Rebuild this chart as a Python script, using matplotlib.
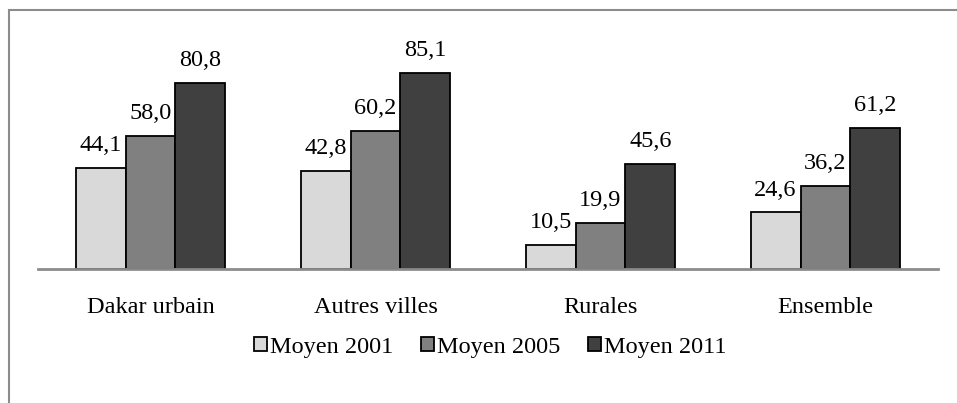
import matplotlib
matplotlib.use("Agg")
import matplotlib.pyplot as plt
import matplotlib.patches as patches
import numpy as np

plt.rcParams["font.family"] = ["Liberation Serif", "DejaVu Serif"]

# données
categories = ["Dakar urbain", "Autres villes", "Rurales", "Ensemble"]
series_names = ["Moyen 2001", "Moyen 2005", "Moyen 2011"]
moyen_2001 = [44.1, 42.8, 10.5, 24.6]
moyen_2005 = [58.0, 60.2, 19.9, 36.2]
moyen_2011 = [80.8, 85.1, 45.6, 61.2]
colors = ["#D9D9D9", "#808080", "#404040"]

fs = 17.5

fig = plt.figure(figsize=(9.57, 4.03), dpi=100)
ax = fig.add_axes([38 / 957, 1 - 269 / 403, 900 / 957, 230 / 403])

x = np.arange(len(categories))
w = 0.222
for i, vals in enumerate([moyen_2001, moyen_2005, moyen_2011]):
    bars = ax.bar(x + (i - 1) * w, vals, w, color=colors[i], edgecolor="black",
                  linewidth=1.3, label=series_names[i], zorder=2)
    for b, v in zip(bars, vals):
        ax.annotate(f"{v:.1f}".replace(".", ","), (b.get_x() + b.get_width() / 2, v),
                    xytext=(0, 8.5), textcoords="offset points", ha="center",
                    va="bottom", fontsize=fs)

ax.set_xlim(-0.5, len(categories) - 0.5)
ax.set_ylim(0, 100)
ax.set_xticks(x)
ax.set_xticklabels(categories, fontsize=fs)
ax.tick_params(axis="x", length=0, pad=20)
ax.set_yticks([])
for s in ["top", "left", "right"]:
    ax.spines[s].set_visible(False)
ax.spines["bottom"].set_color("#8c8c8c")
ax.spines["bottom"].set_linewidth(2)
ax.spines["bottom"].set_zorder(3)

fig.legend(loc="center", bbox_to_anchor=(490 / 957, 1 - 347 / 403), ncol=3,
           frameon=False, fontsize=fs, handlelength=0.55, handleheight=0.55,
           handletextpad=0.1, columnspacing=1.15)

# cadre
fig.patches.append(patches.Rectangle((9 / 957, -0.5), 2, 1.5 - 10 / 403,
                                     transform=fig.transFigure, fill=False,
                                     edgecolor="#8c8c8c", linewidth=1.5))

fig.savefig("out.png", dpi=100)
